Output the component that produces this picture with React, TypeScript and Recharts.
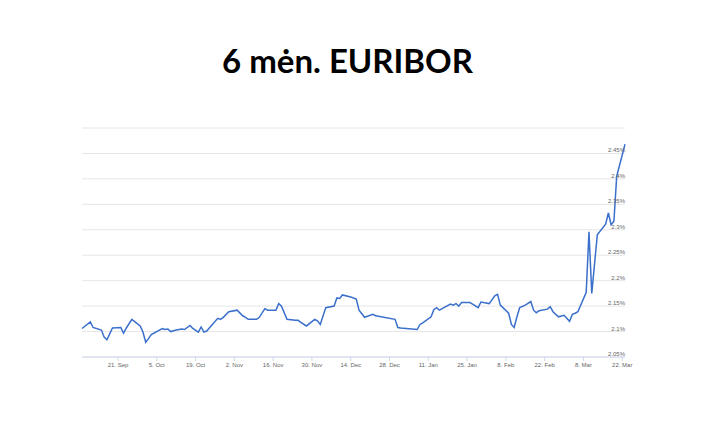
import { LineChart, Line, XAxis, YAxis, CartesianGrid } from "recharts";

// days counted from 21. Sep
const days = [
  -13, -10, -9, -6, -5, -4, -2, 1, 2, 3, 5, 8, 9, 10, 11, 12, 16, 17, 18, 19,
  21, 23, 24, 26, 27, 29, 30, 31, 32, 36, 37, 38, 40, 43, 45, 46, 47, 50, 51,
  53, 54, 57, 58, 59, 61, 64, 65, 66, 68, 71, 72, 73, 75, 78, 79, 80, 81, 84,
  86, 87, 89, 92, 93, 100, 101, 102, 108, 109, 110, 113, 114, 115, 116, 120,
  121, 122, 123, 124, 127, 128, 130, 131, 134, 136, 137, 138, 141, 142, 143,
  144, 145, 147, 149, 150, 151, 152, 155, 156, 157, 159, 161, 163, 164, 165,
  166, 169, 170, 171, 173, 176, 177, 178, 179, 180, 183,
];

const rates = [
  2.106, 2.119, 2.108, 2.103, 2.089, 2.084, 2.107, 2.108, 2.097, 2.107, 2.124,
  2.111, 2.099, 2.079, 2.086, 2.094, 2.106, 2.104, 2.105, 2.1, 2.103, 2.105,
  2.104, 2.112, 2.106, 2.099, 2.109, 2.099, 2.101, 2.126, 2.124, 2.128, 2.139,
  2.142, 2.131, 2.128, 2.124, 2.124, 2.128, 2.145, 2.142, 2.142, 2.155, 2.15,
  2.124, 2.122, 2.122, 2.118, 2.111, 2.124, 2.121, 2.114, 2.147, 2.15, 2.166,
  2.165, 2.172, 2.168, 2.164, 2.142, 2.128, 2.134, 2.131, 2.124, 2.108, 2.107,
  2.104, 2.114, 2.117, 2.129, 2.143, 2.147, 2.142, 2.154, 2.152, 2.155, 2.15,
  2.157, 2.157, 2.154, 2.147, 2.158, 2.155, 2.17, 2.173, 2.152, 2.136, 2.114,
  2.108, 2.129, 2.147, 2.152, 2.159, 2.142, 2.137, 2.141, 2.144, 2.149, 2.139,
  2.129, 2.132, 2.12, 2.134, 2.136, 2.139, 2.177, 2.296, 2.175, 2.29, 2.311,
  2.333, 2.31, 2.317, 2.405, 2.468,
];

const tickDays = [0, 14, 28, 42, 56, 70, 84, 98, 112, 126, 140, 154, 168, 182];
const tickLabels = [
  "21. Sep", "5. Oct", "19. Oct", "2. Nov", "16. Nov", "30. Nov", "14. Dec",
  "28. Dec", "11. Jan", "25. Jan", "8. Feb", "22. Feb", "8. Mar", "22. Mar",
];
const yTicks = [2.05, 2.1, 2.15, 2.2, 2.25, 2.3, 2.35, 2.4, 2.45, 2.5];

const data = days.map((d, i) => ({ day: d, rate: rates[i] }));

const labelFont = "'Liberation Sans', Arial, sans-serif";

const XTick = (props: any) => {
  const { x, y, payload } = props;
  const idx = tickDays.indexOf(payload.value);
  return (
    <text x={x} y={y + 4} textAnchor="middle" fontSize={6} fill="#666" fontFamily={labelFont}>
      {idx >= 0 ? tickLabels[idx] : ""}
    </text>
  );
};

const YTick = (props: any) => {
  const { x, y, payload } = props;
  if (payload.value >= 2.5) return null;
  return (
    <text x={x} y={y - 1} textAnchor="end" fontSize={6} fill="#666" fontFamily={labelFont}>
      {`${Number(payload.value.toFixed(2))}%`}
    </text>
  );
};

export default function App() {
  return (
    <div style={{ position: "absolute", left: 0, top: 0, width: 721, height: 425, background: "#fff" }}>
      <div
        style={{
          position: "absolute",
          left: 0,
          top: 44,
          width: 695,
          textAlign: "center",
          fontFamily: "Lato, 'Open Sans', sans-serif",
          fontWeight: 700,
          fontSize: 33,
          lineHeight: "33px",
          color: "#000",
        }}
      >
        6 mėn. EURIBOR
      </div>
      <div style={{ position: "absolute", left: 0, top: 0 }}>
        <LineChart
          width={721}
          height={425}
          data={data}
          margin={{ top: 128, right: 96, bottom: 48, left: 82 }}
        >
          <CartesianGrid horizontal vertical={false} stroke="#e6e6e6" />
          <XAxis
            dataKey="day"
            type="number"
            domain={["dataMin", "dataMax"]}
            ticks={tickDays}
            interval={0}
            stroke="#ccd6eb"
            tickSize={4}
            tickMargin={2}
            tick={<XTick />}
            height={20}
          />
          <YAxis
            orientation="right"
            mirror
            domain={[2.05, 2.5]}
            ticks={yTicks}
            interval={0}
            axisLine={false}
            tickLine={false}
            tickSize={0}
            tickMargin={0}
            tick={<YTick />}
            allowDataOverflow
          />
          <Line
            type="linear"
            dataKey="rate"
            stroke="#3a6fcb"
            strokeWidth={1.5}
            dot={false}
            isAnimationActive={false}
          />
        </LineChart>
      </div>
    </div>
  );
}
